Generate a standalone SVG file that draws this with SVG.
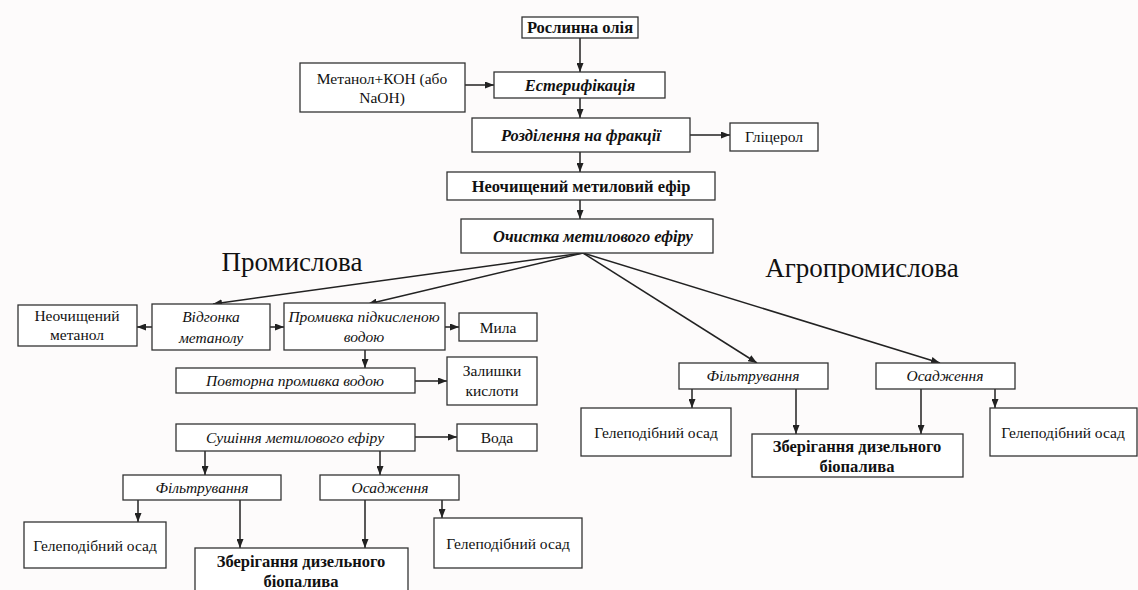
<svg xmlns="http://www.w3.org/2000/svg" width="1138" height="590" viewBox="0 0 1138 590">
<defs>
<marker id="ah" markerWidth="9" markerHeight="7" refX="9" refY="3.5" orient="auto" markerUnits="userSpaceOnUse">
<path d="M0,0 L9,3.5 L0,7 Z" fill="#222"/>
</marker>
<style>
.b{fill:#fff;stroke:#333;stroke-width:1.3}
.t{font-family:"Liberation Serif","Times New Roman","DejaVu Serif",serif;font-size:15.5px;fill:#111;text-anchor:middle}
.bo{font-weight:bold;font-size:16.5px}
.it{font-style:italic}
.h{font-family:"Liberation Serif","Times New Roman","DejaVu Serif",serif;font-size:27px;fill:#111;text-anchor:middle}
.c line{stroke:#222;stroke-width:1.5;marker-end:url(#ah)}
</style>
</defs>
<rect width="1138" height="590" fill="#fdfbfb"/>
<text class="h" x="292" y="271">Промислова</text>
<text class="h" x="862" y="277">Агропромислова</text>
<g class="c" id="connectors">
<line x1="580" y1="38" x2="580" y2="72"/>
<line x1="465" y1="85" x2="494" y2="85"/>
<line x1="580" y1="98" x2="580" y2="118"/>
<line x1="690" y1="135" x2="730" y2="135"/>
<line x1="580" y1="152" x2="580" y2="172"/>
<line x1="580" y1="200" x2="580" y2="219"/>
<line x1="583" y1="253" x2="213" y2="304"/>
<line x1="583" y1="253" x2="368" y2="304"/>
<line x1="583" y1="253" x2="757" y2="363"/>
<line x1="583" y1="253" x2="940" y2="363"/>
<line x1="152" y1="327" x2="137" y2="327"/>
<line x1="270" y1="327" x2="284" y2="327"/>
<line x1="445" y1="327" x2="459" y2="327"/>
<line x1="365" y1="350" x2="365" y2="368"/>
<line x1="415" y1="381" x2="447" y2="381"/>
<line x1="415" y1="437" x2="457" y2="437"/>
<line x1="205" y1="451" x2="205" y2="475"/>
<line x1="380" y1="451" x2="380" y2="475"/>
<line x1="138" y1="500" x2="138" y2="522"/>
<line x1="240" y1="500" x2="240" y2="548"/>
<line x1="365" y1="500" x2="365" y2="548"/>
<line x1="442" y1="500" x2="442" y2="518"/>
<line x1="692" y1="389" x2="692" y2="408"/>
<line x1="796" y1="389" x2="796" y2="434"/>
<line x1="921" y1="389" x2="921" y2="434"/>
<line x1="995" y1="389" x2="995" y2="408"/>
</g>
<g id="n-oil"><rect class="b" x="522" y="17" width="116" height="21" stroke-width="2"/><text class="t bo" x="580" y="33">Рослинна олія</text></g>
<g id="n-methanol-koh"><rect class="b" x="300" y="63" width="165" height="49"/><text class="t" x="382" y="84">Метанол+КОН (або</text><text class="t" x="382" y="103">NaOH)</text></g>
<g id="n-ester"><rect class="b" x="494" y="72" width="171" height="26"/><text class="t bo it" x="580" y="91">Естерифікація</text></g>
<g id="n-separation"><rect class="b" x="472" y="118" width="218" height="34"/><text class="t bo it" x="581" y="141">Розділення на фракції</text></g>
<g id="n-glycerol"><rect class="b" x="730" y="123" width="88" height="28"/><text class="t" x="774" y="142">Гліцерол</text></g>
<g id="n-crude-ester"><rect class="b" x="447" y="172" width="268" height="28"/><text class="t bo" x="581" y="192">Неочищений метиловий ефір</text></g>
<g id="n-purification"><rect class="b" x="461" y="219" width="252" height="34"/><text class="t bo it" x="593" y="242">Очистка метилового ефіру</text></g>
<g id="n-crude-methanol"><rect class="b" x="18" y="305" width="119" height="41"/><text class="t" x="77" y="321">Неочищений</text><text class="t" x="77" y="340">метанол</text></g>
<g id="n-distill"><rect class="b" x="152" y="304" width="118" height="46"/><text class="t it" x="211" y="322">Відгонка</text><text class="t it" x="211" y="343">метанолу</text></g>
<g id="n-acid-wash"><rect class="b" x="284" y="303" width="161" height="47"/><text class="t it" x="364" y="322">Промивка підкисленою</text><text class="t it" x="364" y="342">водою</text></g>
<g id="n-soap"><rect class="b" x="459" y="313" width="78" height="28"/><text class="t" x="498" y="333">Мила</text></g>
<g id="n-rewash"><rect class="b" x="176" y="368" width="239" height="25"/><text class="t it" x="295" y="386">Повторна промивка водою</text></g>
<g id="n-acid-rest"><rect class="b" x="447" y="357" width="90" height="48"/><text class="t" x="492" y="376">Залишки</text><text class="t" x="492" y="396">кислоти</text></g>
<g id="n-drying"><rect class="b" x="176" y="424" width="239" height="27"/><text class="t it" x="295" y="443">Сушіння метилового ефіру</text></g>
<g id="n-water"><rect class="b" x="457" y="424" width="80" height="27"/><text class="t" x="497" y="443">Вода</text></g>
<g id="n-filt-l"><rect class="b" x="123" y="475" width="158" height="25"/><text class="t it" x="202" y="493">Фільтрування</text></g>
<g id="n-sed-l"><rect class="b" x="320" y="475" width="139" height="25"/><text class="t it" x="390" y="493">Осадження</text></g>
<g id="n-gel-l1"><rect class="b" x="24" y="522" width="142" height="46"/><text class="t" x="95" y="551">Гелеподібний осад</text></g>
<g id="n-store-l"><rect class="b" x="195" y="548" width="213" height="48"/><text class="t bo" x="301" y="567">Зберігання дизельного</text><text class="t bo" x="301" y="587">біопалива</text></g>
<g id="n-gel-l2"><rect class="b" x="434" y="518" width="148" height="50"/><text class="t" x="508" y="549">Гелеподібний осад</text></g>
<g id="n-filt-r"><rect class="b" x="679" y="363" width="149" height="26"/><text class="t it" x="753" y="381">Фільтрування</text></g>
<g id="n-sed-r"><rect class="b" x="876" y="363" width="139" height="26"/><text class="t it" x="945" y="381">Осадження</text></g>
<g id="n-gel-r1"><rect class="b" x="581" y="408" width="150" height="48"/><text class="t" x="656" y="438">Гелеподібний осад</text></g>
<g id="n-store-r"><rect class="b" x="752" y="434" width="211" height="43"/><text class="t bo" x="857" y="452">Зберігання дизельного</text><text class="t bo" x="857" y="472">біопалива</text></g>
<g id="n-gel-r2"><rect class="b" x="990" y="408" width="147" height="48"/><text class="t" x="1063" y="438">Гелеподібний осад</text></g>
</svg>
